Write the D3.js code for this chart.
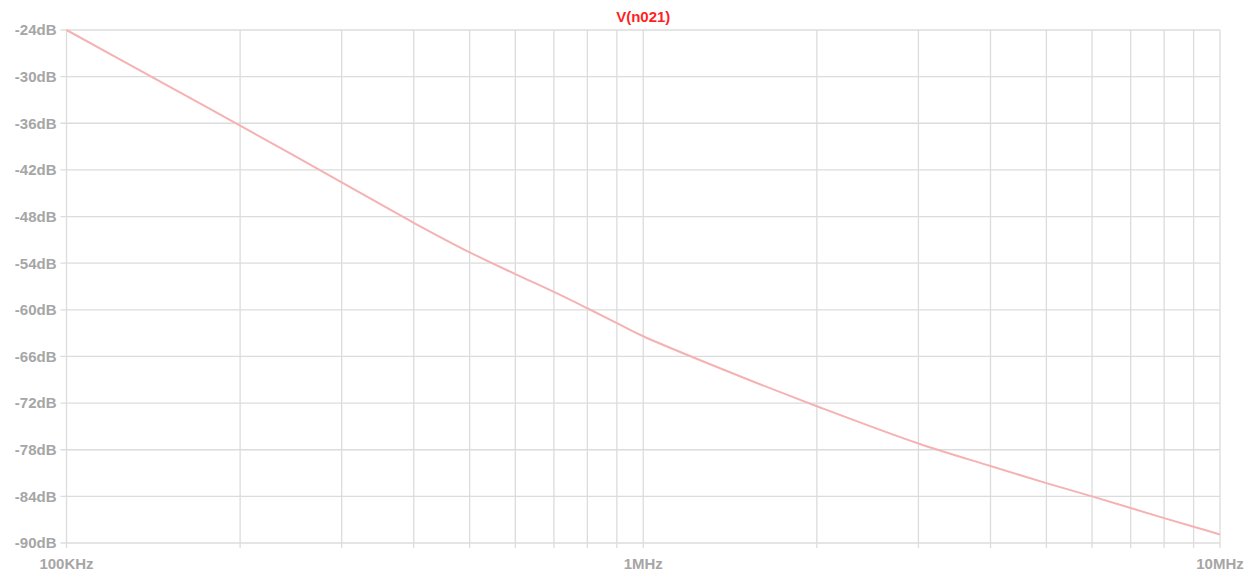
<!DOCTYPE html>
<html>
<head>
<meta charset="utf-8">
<script src="https://cdn.jsdelivr.net/npm/d3@7"></script>
<style>
  body { margin: 0; background: #fff; }
  svg text { font-family: "Liberation Sans", Arial, sans-serif; }
</style>
</head>
<body>
<div id="chart"></div>
<script>
// frequency (Hz) and magnitude (dB)
var freqs = [100e3, 150e3, 200e3, 300e3, 400e3, 500e3, 600e3, 700e3, 800e3, 900e3,
             1e6, 1.5e6, 2e6, 3e6, 4e6, 5e6, 6e6, 7e6, 8e6, 9e6, 10e6];
var magDb = [-24, -31.2, -36.3, -43.6, -48.8, -52.6, -55.4, -57.7, -59.8, -61.7,
             -63.4, -68.8, -72.4, -77.2, -80.1, -82.3, -84.0, -85.5, -86.8, -87.9, -88.9];
var yTicks = [-24, -30, -36, -42, -48, -54, -60, -66, -72, -78, -84, -90];
var xLabels = [[100e3, "100KHz"], [1e6, "1MHz"], [10e6, "10MHz"]];
var title = "V(n021)";

var w = 1253, h = 575;
var margin = {top: 30, right: 33, bottom: 32, left: 66.5};
var width = w - margin.left - margin.right,
    height = h - margin.top - margin.bottom;

var svg = d3.select("#chart").append("svg").attr("width", w).attr("height", h);
var g = svg.append("g").attr("transform", "translate(" + margin.left + "," + margin.top + ")");

var x = d3.scaleLog().domain([100e3, 10e6]).range([0, width]);
var y = d3.scaleLinear().domain([-90, -24]).range([height, 0]);

// vertical grid lines at 1..9 of each decade
var xGrid = [];
[100e3, 1e6].forEach(function(dec) {
  for (var k = 1; k <= 9; k++) xGrid.push(dec * k);
});
xGrid.push(10e6);

var gridColor = "#dcdcdc";

g.selectAll(".vgrid").data(xGrid).enter().append("line")
    .attr("x1", function(d) { return x(d); })
    .attr("x2", function(d) { return x(d); })
    .attr("y1", 0).attr("y2", height + 5)
    .attr("stroke", gridColor).attr("stroke-width", 1.3);

g.selectAll(".hgrid").data(yTicks).enter().append("line")
    .attr("x1", -6).attr("x2", width)
    .attr("y1", function(d) { return y(d); })
    .attr("y2", function(d) { return y(d); })
    .attr("stroke", gridColor).attr("stroke-width", 1.3);

// y labels
g.selectAll(".ylab").data(yTicks).enter().append("text")
    .attr("x", -10)
    .attr("y", function(d) { return y(d); })
    .attr("dy", "0.36em")
    .attr("text-anchor", "end")
    .attr("fill", "#a6a6a6")
    .attr("font-size", 15)
    .attr("font-weight", "bold")
    .text(function(d) { return d + "dB"; });

// x labels
g.selectAll(".xlab").data(xLabels).enter().append("text")
    .attr("x", function(d) { return x(d[0]); })
    .attr("y", height + 26)
    .attr("text-anchor", "middle")
    .attr("fill", "#a6a6a6")
    .attr("font-size", 15)
    .attr("font-weight", "bold")
    .text(function(d) { return d[1]; });

// title
svg.append("text")
    .attr("x", margin.left + x(1e6))
    .attr("y", 22)
    .attr("text-anchor", "middle")
    .attr("fill", "#ff1f1f")
    .attr("font-size", 15)
    .attr("font-weight", "bold")
    .text(title);

var pts = freqs.map(function(f, i) { return {f: f, db: magDb[i]}; });

var line = d3.line()
    .x(function(d) { return x(d.f); })
    .y(function(d) { return y(d.db); })
    .curve(d3.curveCatmullRom);

g.append("path")
    .datum(pts)
    .attr("fill", "none")
    .attr("stroke", "#f5b2b2")
    .attr("stroke-width", 2)
    .attr("d", line);
</script>
</body>
</html>
